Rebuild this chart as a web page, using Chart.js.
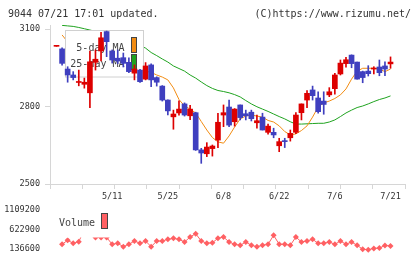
<!DOCTYPE html>
<html>
<head>
<meta charset="utf-8">
<script src="https://cdn.jsdelivr.net/npm/chart.js@4/dist/chart.umd.min.js"></script>
<style>
    body { margin: 0; background: #fff; }
    #wrap { position: relative; width: 420px; height: 259px; overflow: hidden; }
    canvas { position: absolute; left: 0; }
    #price { top: 0; }
    #volume { top: 200px; }
</style>
</head>
<body>
<div id="wrap">
    <canvas id="price" width="420" height="205"></canvas>
    <canvas id="volume" width="420" height="59"></canvas>
</div>
<script>
// trading days 2015/04/21 - 2015/07/21
const dates = ['4/21', '4/22', '4/23', '4/24', '4/27', '4/28', '4/30',
    '5/1', '5/7', '5/8', '5/11', '5/12', '5/13', '5/14', '5/15', '5/18', '5/19', '5/20', '5/21', '5/22',
    '5/25', '5/26', '5/27', '5/28', '5/29',
    '6/1', '6/2', '6/3', '6/4', '6/5', '6/8', '6/9', '6/10', '6/11', '6/12', '6/15', '6/16', '6/17', '6/18', '6/19',
    '6/22', '6/23', '6/24', '6/25', '6/26', '6/29', '6/30',
    '7/1', '7/2', '7/3', '7/6', '7/7', '7/8', '7/9', '7/10', '7/13', '7/14', '7/15', '7/16', '7/17', '7/21'];
const tickDates = ['5/11', '5/25', '6/8', '6/22', '7/6', '7/21'];

const opens = [3033, 3023, 2945, 2922, 2893, 2886, 2853, 2971, 3015, 3090,
    3015, 2987, 2989, 2971, 2929, 2941, 2906, 2961, 2912, 2879,
    2825, 2760, 2775, 2810, 2764, 2776, 2632, 2617, 2637, 2670,
    2767, 2798, 2741, 2806, 2772, 2778, 2737, 2759, 2700, 2700,
    2648, 2666, 2679, 2700, 2776, 2825, 2864, 2833, 2821, 2845,
    2869, 2926, 2966, 2999, 2972, 2935, 2937, 2945, 2953, 2957, 2965];
const highs = [3036, 3027, 2954, 2935, 2941, 2910, 3015, 3019, 3087, 3092,
    3019, 3019, 3007, 2988, 2961, 2944, 2970, 2965, 2915, 2881,
    2826, 2786, 2822, 2814, 2805, 2778, 2638, 2660, 2651, 2774,
    2806, 2825, 2792, 2806, 2786, 2786, 2767, 2774, 2732, 2716,
    2677, 2677, 2709, 2776, 2810, 2862, 2879, 2857, 2857, 2873,
    2928, 2980, 2990, 3000, 2972, 2937, 2958, 2954, 2980, 2973, 2992];
const lows = [3033, 2960, 2894, 2903, 2880, 2871, 2795, 2941, 2976, 2993,
    2968, 2966, 2953, 2931, 2903, 2893, 2903, 2877, 2879, 2821,
    2767, 2712, 2766, 2763, 2749, 2630, 2580, 2606, 2608, 2641,
    2722, 2722, 2724, 2748, 2748, 2744, 2716, 2709, 2693, 2679,
    2625, 2641, 2666, 2695, 2748, 2795, 2825, 2774, 2770, 2838,
    2848, 2922, 2952, 2950, 2906, 2892, 2918, 2926, 2919, 2919, 2948];
const closes = [3036, 2967, 2922, 2912, 2896, 2894, 2973, 2983, 3066, 3051,
    2980, 2976, 2967, 2935, 2945, 2896, 2957, 2903, 2894, 2825,
    2783, 2771, 2790, 2767, 2790, 2632, 2620, 2643, 2647, 2739,
    2776, 2728, 2790, 2757, 2764, 2753, 2745, 2709, 2724, 2690,
    2664, 2664, 2696, 2767, 2810, 2851, 2842, 2780, 2808, 2857,
    2922, 2968, 2981, 2966, 2906, 2912, 2927, 2949, 2931, 2945, 2972];

const ma5 = [null, 3077, 3050, 3000, 2965, 2940, 2930, 2935, 2950, 2975,
    2990, 3000, 3005, 2990, 2970, 2950, 2937, 2932, 2922, 2914,
    2903, 2872, 2827, 2802, 2790, 2775, 2742, 2709, 2680, 2663,
    2658, 2686, 2721, 2752, 2763, 2767, 2763, 2759, 2746, 2740,
    2725, 2703, 2690, 2694, 2707, 2725, 2759, 2798, 2814, 2821,
    2831, 2845, 2868, 2906, 2937, 2948, 2948, 2948, 2945, 2935, 2945];
const ma25 = [null, 3114, 3112, 3110, 3106, 3101, 3096, 3091, 3086, 3081,
    3075, 3068, 3061, 3053, 3045, 3036, 3026, 3009, 2997, 2984,
    2972, 2957, 2947, 2937, 2922, 2910, 2895, 2881, 2870, 2862,
    2858, 2853, 2846, 2837, 2823, 2810, 2799, 2790, 2781, 2771,
    2761, 2752, 2741, 2732, 2732, 2733, 2734, 2735, 2735, 2740,
    2748, 2761, 2775, 2786, 2796, 2802, 2810, 2819, 2827, 2833, 2841];

const volumes = [null, 254000, 354000, 279000, 319000, 620000, 700000, 425000, 425000, 425000,
    254000, 279000, 194000, 254000, 336000, 279000, 336000, 194000, 336000, 336000,
    378000, 403000, 378000, 311000, 436000, 518000, 336000, 279000, 294000, 403000,
    436000, 311000, 254000, 229000, 311000, 229000, 194000, 229000, 254000, 478000,
    254000, 254000, 229000, 436000, 311000, 336000, 378000, 279000, 279000, 311000,
    254000, 336000, 254000, 311000, 229000, 130000, 120000, 150000, 160000, 225000, 210000];

const priceTicks = [2500, 2800, 3100];
const volumeTicks = [136600, 622900, 1109200];

const FONT = 'DejaVu Sans Mono';
const UP = '#dd0000';
const DOWN = '#3f3fbf';
const MA5_COLOR = '#f28c12';
const MA25_COLOR = '#1fa31f';
const VOL_COLOR = '#ff6063';
const AXIS_COLOR = '#d6d6d6';
const xMin = -1.17;
const xMax = 62.6;

const candleColors = closes.map((c, i) => c >= opens[i] ? UP : DOWN);

function swatch(ctx, x, y, w, h, color) {
    ctx.fillStyle = color;
    ctx.fillRect(x, y, w, h);
    ctx.strokeStyle = '#444';
    ctx.lineWidth = 1;
    ctx.strokeRect(x + 0.5, y + 0.5, w - 1, h - 1);
}

// legend box sits above the MA lines but under the candles
const priceLegend = {
    id: 'priceLegend',
    beforeDatasetDraw(chart, args) {
        if (args.index !== 2) return;
        const ctx = chart.ctx;
        const ds = chart.data.datasets;
        ctx.save();
        ctx.fillStyle = '#fff';
        ctx.fillRect(65.5, 30.5, 78, 46.5);
        ctx.strokeStyle = '#d0d0d0';
        ctx.lineWidth = 1;
        ctx.strokeRect(65.5, 30.5, 78, 46.5);
        ctx.font = '10px ' + FONT;
        ctx.fillStyle = '#444';
        ctx.textAlign = 'right';
        ctx.fillText(ds[0].label, 124.5, 50.5);
        ctx.fillText(ds[1].label, 124.5, 67);
        swatch(ctx, 131, 37, 6, 16, ds[0].borderColor);
        swatch(ctx, 131, 54, 6, 16, ds[1].borderColor);
        ctx.restore();
    },
    afterDraw(chart) {
        const ctx = chart.ctx;
        ctx.save();
        ctx.font = '10px ' + FONT;
        ctx.fillStyle = '#333';
        ctx.textAlign = 'left';
        ctx.fillText('9044 07/21 17:01 updated.', 8, 16.5);
        ctx.textAlign = 'right';
        ctx.fillText('(C)https://www.rizumu.net/', 411, 16.5);
        ctx.restore();
    }
};

const volumeLegend = {
    id: 'volumeLegend',
    afterDatasetsDraw(chart) {
        const ctx = chart.ctx;
        const ds = chart.data.datasets[0];
        ctx.save();
        ctx.fillStyle = '#fff';
        ctx.fillRect(52, 3, 61, 34.5);
        ctx.font = '10px ' + FONT;
        ctx.fillStyle = '#444';
        ctx.textAlign = 'left';
        ctx.fillText(ds.label, 59, 26);
        swatch(ctx, 101, 13, 7, 16, ds.borderColor);
        ctx.restore();
    }
};

const tickFont = { family: FONT, size: 8.5 };

new Chart(document.getElementById('price'), {
    type: 'bar',
    data: {
        datasets: [{
            type: 'line',
            label: '5-day MA',
            data: ma5.map((v, i) => ({ x: i, y: v })),
            xAxisID: 'x',
            borderColor: MA5_COLOR,
            borderWidth: 1,
            pointRadius: 0,
            order: 3
        }, {
            type: 'line',
            label: '25-day MA',
            data: ma25.map((v, i) => ({ x: i, y: v })),
            xAxisID: 'x',
            borderColor: MA25_COLOR,
            borderWidth: 1,
            pointRadius: 0,
            order: 4
        }, {
            label: 'wick',
            data: lows.map((v, i) => ({ x: i, y: [v, highs[i]] })),
            xAxisID: 'x',
            backgroundColor: candleColors,
            barThickness: 1,
            grouped: false,
            order: 2
        }, {
            label: 'body',
            data: opens.map((v, i) => ({ x: i, y: [v, closes[i]] })),
            xAxisID: 'x',
            backgroundColor: candleColors,
            barThickness: 5,
            minBarLength: 1,
            grouped: false,
            order: 1
        }]
    },
    options: {
        responsive: false,
        animation: false,
        devicePixelRatio: 1,
        events: [],
        layout: { padding: { left: 0, right: 15, top: 25, bottom: 4 } },
        plugins: { legend: { display: false }, tooltip: { enabled: false } },
        scales: {
            x: {
                type: 'linear',
                position: 'bottom',
                weight: 1,
                offset: false,
                min: xMin,
                max: xMax,
                afterBuildTicks: (s) => {
                    s.ticks = tickDates.map(d => ({ value: dates.indexOf(d) }));
                },
                ticks: {
                    autoSkip: false,
                    maxRotation: 0,
                    padding: 3,
                    color: '#333',
                    font: tickFont,
                    callback: (v) => dates[v]
                },
                grid: { display: false, drawTicks: false },
                border: { display: false },
                afterFit: (s) => { s.height = 12; }
            },
            x2: {
                type: 'linear',
                position: 'bottom',
                weight: 0,
                offset: false,
                min: xMin,
                max: xMax,
                afterBuildTicks: (s) => {
                    s.ticks = Array.from({ length: 12 }, (_, k) => ({ value: xMin + k * (xMax - xMin) / 11 }));
                },
                ticks: { display: false },
                grid: { drawOnChartArea: false, offset: false, tickLength: 5, color: AXIS_COLOR },
                border: { color: AXIS_COLOR },
                afterFit: (s) => { s.height = 5; }
            },
            y: {
                type: 'linear',
                position: 'left',
                min: 2500,
                max: 3115.5,
                afterBuildTicks: (s) => {
                    s.ticks = priceTicks.map(v => ({ value: v }));
                },
                ticks: { padding: 5, color: '#333', font: tickFont, callback: (v) => String(v) },
                grid: { drawOnChartArea: false, tickLength: 5, color: AXIS_COLOR },
                border: { color: AXIS_COLOR },
                afterFit: (s) => { s.width = 50; }
            }
        }
    },
    plugins: [priceLegend]
});

new Chart(document.getElementById('volume'), {
    type: 'line',
    data: {
        datasets: [{
            label: 'Volume',
            data: volumes.map((v, i) => ({ x: i, y: v })),
            borderColor: VOL_COLOR,
            borderWidth: 1,
            pointStyle: 'rectRot',
            pointRadius: 3,
            pointBorderWidth: 0,
            pointBackgroundColor: VOL_COLOR,
            clip: false
        }]
    },
    options: {
        responsive: false,
        animation: false,
        devicePixelRatio: 1,
        events: [],
        layout: { padding: { left: 0, right: 15, top: 10, bottom: 10 } },
        plugins: { legend: { display: false }, tooltip: { enabled: false } },
        scales: {
            x: { type: 'linear', display: false, offset: false, min: xMin, max: xMax },
            y: {
                type: 'linear',
                min: volumeTicks[0],
                max: volumeTicks[volumeTicks.length - 1],
                afterBuildTicks: (s) => {
                    s.ticks = volumeTicks.map(v => ({ value: v }));
                },
                // hidden tick marks keep the labels 10px off the plot edge
                ticks: { padding: 0, color: '#333', font: tickFont, callback: (v) => String(v) },
                grid: { display: false, drawTicks: true, tickLength: 10 },
                border: { display: false },
                afterFit: (s) => { s.width = 50; }
            }
        }
    },
    plugins: [volumeLegend]
});
</script>
</body>
</html>
